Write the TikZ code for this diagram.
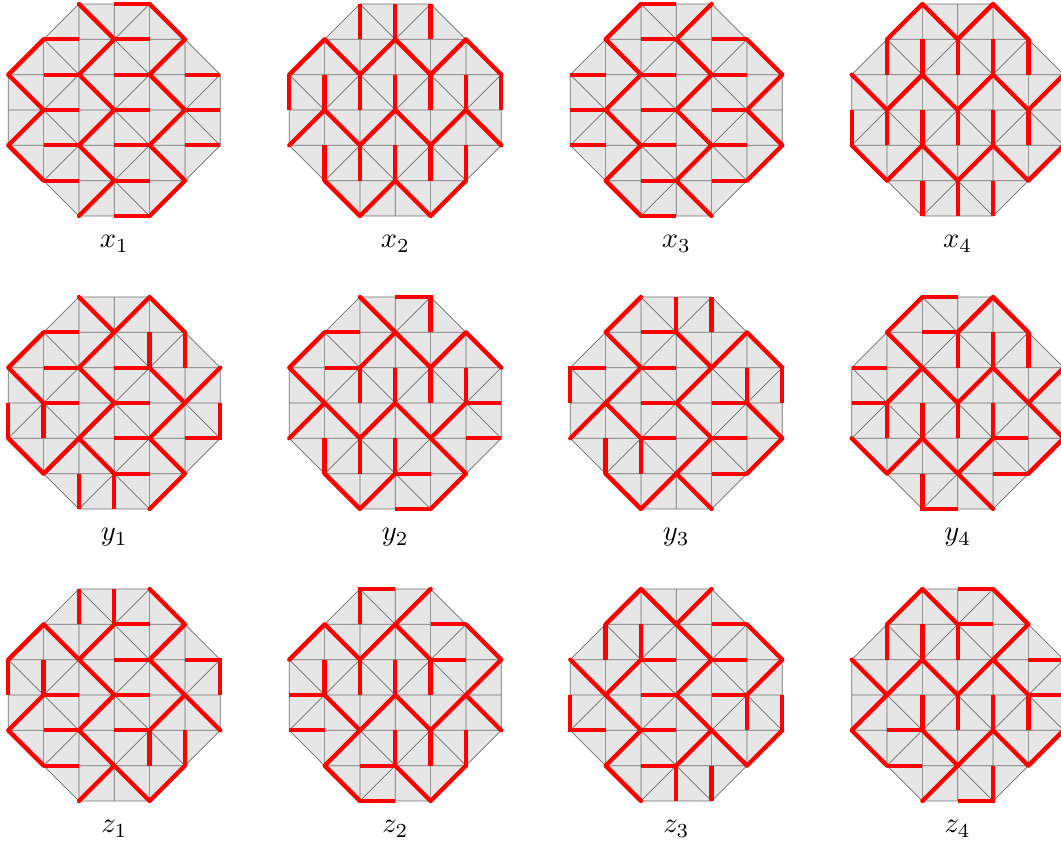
\documentclass[tikz,border=0pt]{standalone}
\definecolor{cellgrey}{HTML}{E6E6E6}
\definecolor{gridgrey}{HTML}{6E6E6E}
\tikzset{
  cellfill/.style={fill=cellgrey,draw=none},
  gridline/.style={draw=gridgrey,line width=0.7pt},
  diagred/.style={draw=red,line width=4.3pt,line cap=round,line join=round},
  axisred/.style={draw=red,line width=4.3pt,line cap=butt,line join=miter},
  caption/.style={anchor=base,scale=2.85,inner sep=0pt}
}
\def\hh#1#2{(#1,#2)--++(1,0) }
\def\vv#1#2{(#1,#2)--++(0,1) }
% origin x, origin y, node name, label, diagonal red path, axis red path
\newcommand{\octo}[6]{%
  \begin{scope}[shift={(#1,#2)},x=35.33pt,y=-35.33pt]
    \fill[cellfill] (2,0)--(4,0)--(6,2)--(6,4)--(4,6)--(2,6)--(0,4)--(0,2)--cycle;
    \draw[gridline] (2,0)--(4,0)--(6,2)--(6,4)--(4,6)--(2,6)--(0,4)--(0,2)--cycle;
    \draw[gridline] (1,1)--(1,5) (2,0)--(2,6) (3,0)--(3,6) (4,0)--(4,6) (5,1)--(5,5)
      (1,1)--(5,1) (0,2)--(6,2) (0,3)--(6,3) (0,4)--(6,4) (1,5)--(5,5)
      (1,1)--(5,5) (2,0)--(6,4) (0,2)--(4,6)
      (1,5)--(5,1) (0,4)--(4,0) (2,6)--(6,2);
    \draw[diagred] #5;
    \draw[axisred] #6;
    \node[caption] (#3) at (3,6.9) {$#4$};
  \end{scope}%
}
\begin{document}
\begin{tikzpicture}[x=1pt,y=-1pt]
\clip (0,0) rectangle (1061,846);
% row x
\octo{8.3}{4}{lx1}{x_1}
 {(1,1)--(0,2)--(1,3)--(0,4)--(1,5) (2,0)--(3,1)--(2,2)--(3,3)--(2,4)--(3,5)--(2,6) (4,0)--(5,1)--(4,2)--(5,3)--(4,4)--(5,5)--(4,6)}
 {\hh30 \hh11 \hh31 \hh12 \hh32 \hh52 \hh13 \hh33 \hh53 \hh14 \hh34 \hh54 \hh15 \hh35 \hh36}
\octo{289.3}{4}{lx2}{x_2}
 {(0,2)--(1,1)--(2,2)--(3,1)--(4,2)--(5,1)--(6,2) (0,4)--(1,3)--(2,4)--(3,3)--(4,4)--(5,3)--(6,4) (1,5)--(2,6)--(3,5)--(4,6)--(5,5)}
 {\vv20 \vv30 \vv40 \vv02 \vv12 \vv22 \vv32 \vv42 \vv52 \vv62 \vv14 \vv24 \vv34 \vv44 \vv54}
\octo{570.3}{4}{lx3}{x_3}
 {(2,0)--(1,1)--(2,2)--(1,3)--(2,4)--(1,5)--(2,6) (4,0)--(3,1)--(4,2)--(3,3)--(4,4)--(3,5)--(4,6) (5,1)--(6,2)--(5,3)--(6,4)--(5,5)}
 {\hh20 \hh21 \hh41 \hh02 \hh22 \hh42 \hh03 \hh23 \hh43 \hh04 \hh24 \hh44 \hh25 \hh45 \hh26}
\octo{851.7}{4}{lx4}{x_4}
 {(1,1)--(2,0)--(3,1)--(4,0)--(5,1) (0,2)--(1,3)--(2,2)--(3,3)--(4,2)--(5,3)--(6,2) (0,4)--(1,5)--(2,4)--(3,5)--(4,4)--(5,5)--(6,4)}
 {\vv11 \vv21 \vv31 \vv41 \vv51 \vv03 \vv13 \vv23 \vv33 \vv43 \vv53 \vv63 \vv25 \vv35 \vv45}
% row y
\octo{8.3}{297}{ly1}{y_1}
 {(2,0)--(3,1)--(4,0)--(5,1) (1,1)--(0,2)--(1,3) (3,1)--(2,2)--(3,3)--(2,4)--(1,5)--(0,4) (2,4)--(3,5) (4,2)--(5,3)--(6,2) (5,3)--(4,4)--(5,5)--(4,6)}
 {\hh11 \hh12 \hh32 \hh13 \hh33 \hh34 \hh35 \vv41 \vv51 \vv03 \vv13 \vv25 \vv35 (6,3)--(6,4)--(5,4)}
\octo{289.3}{297}{ly2}{y_2}
 {(2,0)--(3,1)--(4,2)--(5,1)--(6,2) (1,1)--(0,2)--(1,3)--(2,4)--(3,3)--(4,4)--(5,5)--(4,6) (3,1)--(2,2) (1,3)--(0,4) (4,4)--(5,3) (1,5)--(2,6)--(3,5)}
 {\hh11 \hh12 \hh53 \hh54 \hh35 \hh36 \vv22 \vv32 \vv42 \vv52 \vv14 \vv24 \vv34 (3,0)--(4,0)--(4,1)}
\octo{570.3}{297}{ly3}{y_3}
 {(2,0)--(1,1)--(2,2)--(1,3)--(0,4) (1,3)--(2,4) (3,1)--(4,2)--(5,1)--(6,2) (4,2)--(3,3)--(4,4)--(3,5)--(2,6)--(1,5) (3,5)--(4,6) (5,3)--(6,4)--(5,5)}
 {\hh21 \hh22 \hh23 \hh43 \hh24 \hh44 \hh45 \vv30 \vv40 \vv52 \vv62 \vv14 \vv24 (1,2)--(0,2)--(0,3)}
\octo{851.7}{297}{ly4}{y_4}
 {(2,0)--(1,1)--(2,2)--(3,3)--(4,2)--(5,3)--(6,4)--(5,5) (2,2)--(1,3) (5,3)--(6,2) (3,1)--(4,0)--(5,1) (0,4)--(1,5)--(2,4)--(3,5)--(4,6) (3,5)--(4,4)}
 {\hh20 \hh21 \hh02 \hh03 \hh44 \hh45 \vv31 \vv41 \vv51 \vv13 \vv23 \vv33 \vv43 (2,5)--(2,6)--(3,6)}
% row z
\octo{8.3}{589}{lz1}{z_1}
 {(4,0)--(5,1)--(4,2)--(5,3)--(6,4) (5,3)--(4,4) (0,2)--(1,1)--(2,2)--(3,3)--(2,4)--(3,5)--(4,6)--(5,5) (2,2)--(3,1) (3,5)--(2,6) (1,3)--(0,4)--(1,5)}
 {\hh31 \hh32 \hh13 \hh33 \hh14 \hh34 \hh15 \vv20 \vv30 \vv02 \vv12 \vv44 \vv54 (5,2)--(6,2)--(6,3)}
\octo{289.3}{589}{lz2}{z_2}
 {(0,2)--(1,1)--(2,2)--(3,1)--(4,0) (3,1)--(4,2) (5,1)--(6,2)--(5,3)--(4,4)--(3,3)--(2,4)--(1,3) (5,3)--(6,4) (2,4)--(1,5)--(2,6) (3,5)--(4,6)--(5,5)}
 {\hh41 \hh42 \hh03 \hh04 \hh25 \hh26 \vv12 \vv22 \vv32 \vv42 \vv34 \vv44 \vv54 (2,1)--(2,0)--(3,0)}
\octo{570.3}{589}{lz3}{z_3}
 {(1,1)--(2,0)--(3,1)--(4,2)--(3,3)--(4,4)--(5,5)--(6,4) (3,1)--(4,0) (2,2)--(1,3)--(2,4)--(1,5)--(2,6) (0,2)--(1,3) (4,4)--(3,5) (5,1)--(6,2)--(5,3)}
 {\hh41 \hh22 \hh42 \hh23 \hh43 \hh24 \hh25 \vv11 \vv21 \vv53 \vv63 \vv35 \vv45 (0,3)--(0,4)--(1,4)}
\octo{851.7}{589}{lz4}{z_4}
 {(1,1)--(2,0)--(3,1) (4,0)--(5,1)--(4,2)--(3,3)--(2,2)--(1,3)--(0,2) (1,3)--(0,4)--(1,5) (4,2)--(5,3) (2,4)--(3,5)--(2,6) (3,5)--(4,4)--(5,5)--(6,4)}
 {\hh30 \hh31 \hh52 \hh53 \hh14 \hh15 \vv11 \vv21 \vv31 \vv23 \vv33 \vv43 \vv53 (3,6)--(4,6)--(4,5)}
\end{tikzpicture}
\end{document}
